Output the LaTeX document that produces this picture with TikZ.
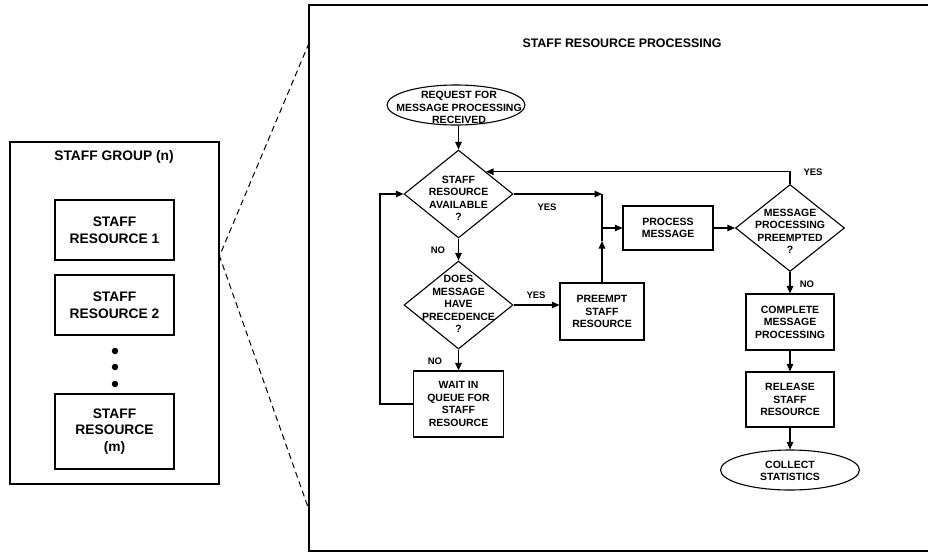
\documentclass[tikz,border=0pt]{standalone}
\usepackage{fontspec}
\setmainfont{Liberation Sans}
\usetikzlibrary{shapes.geometric,arrows.meta}
\newcommand\fcfont{\bfseries\fontsize{10.5}{12.4}\selectfont}
\newcommand\lbfont{\bfseries\fontsize{13.8}{16.5}\selectfont}
\newcommand\ttlfont{\bfseries\fontsize{12.4}{15}\selectfont}
\newcommand\ynfont{\bfseries\fontsize{9.5}{11}\selectfont}
\begin{document}
\begin{tikzpicture}[x=1pt,y=-1pt,line width=1.1pt,
  >={Triangle[length=7.5pt,width=6.5pt]},
  fbox/.style={draw,rectangle,inner sep=0pt,align=center,font=\fcfont},
  sbox/.style={draw,rectangle,inner sep=0pt,align=center,font=\lbfont,minimum width=119pt},
  dia/.style={draw,diamond,inner sep=0pt,minimum width=109pt,minimum height=88pt},
  ell/.style={draw,ellipse,inner sep=0pt},
  txt/.style={inner sep=0pt,align=center,font=\fcfont},
  yn/.style={inner sep=0pt,font=\ynfont},
  dotn/.style={circle,fill,inner sep=0pt,minimum size=6.5pt},
  dsh/.style={dash pattern=on 6pt off 4pt,line width=1pt}]
\useasboundingbox (0,0) rectangle (928,557);

% ---- left group ----
\node[draw,rectangle,minimum width=209pt,minimum height=342pt,inner sep=0pt] (grp) at (114.5,313) {};
\node[inner sep=0pt,font=\lbfont] (grpt) at (114,157) {STAFF GROUP (n)};
\node[sbox,minimum height=60pt] (s1) at (114.5,230) {STAFF\\RESOURCE 1};
\node[sbox,minimum height=60pt] (s2) at (114.5,305) {STAFF\\RESOURCE 2};
\node[dotn] (dt1) at (115,351) {};
\node[dotn] (dt2) at (115,367) {};
\node[dotn] (dt3) at (115,384) {};
\node[sbox,minimum height=75pt] (sm) at (114.5,431.5) {STAFF\\RESOURCE\\(m)};

% ---- zoom frame ----
\coordinate (fa) at (928,5);
\coordinate (fb) at (309,5);
\coordinate (fc) at (309,551);
\coordinate (fd) at (928,551);
\draw (fa) -- (fb) -- (fc) -- (fd);
\coordinate (zp) at (219.5,256);
\coordinate (zt) at (309,43);
\coordinate (zb) at (309,510);
\draw[dsh] (zt) -- (zp) -- (zb);

\node[inner sep=0pt,font=\ttlfont] (title) at (622,43) {STAFF RESOURCE PROCESSING};

% ---- flowchart ----
\node[ell,minimum width=138pt,minimum height=40pt] (req) at (456,105) {};
\node[txt] (reqt) at (459,107.5) {REQUEST FOR\\MESSAGE PROCESSING\\RECEIVED};

\node[dia] (d1) at (458.5,194) {};
\node[txt] (d1t) at (458.5,198.5) {STAFF\\RESOURCE\\AVAILABLE\\?};

\node[dia] (d3) at (458.5,305) {};
\node[txt] (d3t) at (458.5,304) {DOES\\MESSAGE\\HAVE\\PRECEDENCE\\?};

\node[fbox,minimum width=90pt,minimum height=66pt] (wait) at (458.5,404) {WAIT IN\\QUEUE FOR\\STAFF\\RESOURCE};

\node[fbox,minimum width=84pt,minimum height=57pt] (pre) at (602,311.5) {PREEMPT\\STAFF\\RESOURCE};

\node[fbox,minimum width=90pt,minimum height=44pt] (proc) at (668,228) {PROCESS\\MESSAGE};

\node[dia,minimum height=87pt] (d2) at (790,228) {};
\node[txt] (d2t) at (790,231.5) {MESSAGE\\PROCESSING\\PREEMPTED\\?};

\node[fbox,minimum width=88pt,minimum height=56pt] (comp) at (790,322) {COMPLETE\\MESSAGE\\PROCESSING};
\node[fbox,minimum width=88pt,minimum height=55pt] (rel) at (790,399.5) {RELEASE\\STAFF\\RESOURCE};
\node[ell,minimum width=139pt,minimum height=40pt] (col) at (790,470) {};
\node[txt] (colt) at (790,471) {COLLECT\\STATISTICS};

% ---- connectors ----
\draw[->] (d1.north |- req.south) -- (d1.north);
\draw[->] (d1.south) -- (d3.north);
\node[yn] (no1) at (438,250) {NO};
\draw[->] (d3.south) -- (wait.north);
\node[yn] (no2) at (435,361) {NO};
\coordinate (lp) at (380,404);
\draw[->] (wait.west) -- (lp) |- (d1.west);
\draw[->] (d3.east) -- (d3.east -| pre.west);
\node[yn] (yes2) at (536,295) {YES};
\coordinate (j1) at (602,194);
\coordinate (j2) at (602,228);
\coordinate (j3) at (602,241);
\draw[->] (d1.east) -- (j1);
\node[yn] (yes1) at (547,207) {YES};
\draw (j1) -- (j2);
\draw[->] (j2) -- (proc.west);
\draw[->] (pre.north) -- (j3);
\draw (j3) -- (j2);
\draw[->] (proc.east) -- (d2.west);
\draw[->] (d2.north) |- (d1.north east);
\node[yn] (yes3) at (813,172) {YES};
\draw[->] (d2.south) -- (comp.north);
\node[yn] (no3) at (807,284) {NO};
\draw[->] (comp.south) -- (rel.north);
\draw[->] (rel.south) -- (col.north);
\end{tikzpicture}
\end{document}
